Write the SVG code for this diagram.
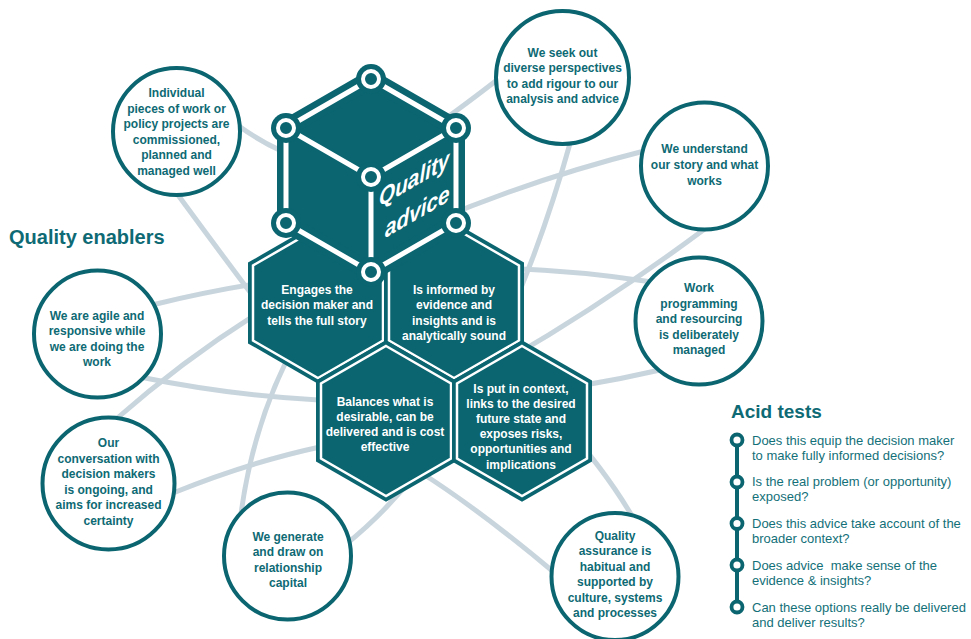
<svg xmlns="http://www.w3.org/2000/svg" xmlns:xlink="http://www.w3.org/1999/xlink" width="971" height="639" viewBox="0 0 971 639">
<style>
.conn{fill:none;stroke:#c9d5dd;stroke-width:5;stroke-linecap:round}
.circ{fill:#fff;stroke:#0a6570;stroke-width:4}
.ct{font-family:"Liberation Sans",Arial,sans-serif;font-weight:bold;font-size:12px;fill:#0e6a74;text-anchor:middle}
.ht{font-family:"Liberation Sans",Arial,sans-serif;font-weight:bold;font-size:12px;fill:#fff;text-anchor:middle}
.hexo{fill:#0a6570}
.hexi{fill:none;stroke:#fff;stroke-width:2.5}
.title{font-family:"Liberation Sans",Arial,sans-serif;font-weight:bold;fill:#0e6a74}
.at{font-family:"Liberation Sans",Arial,sans-serif;font-size:13px;fill:#137079}
.qa{font-family:"Liberation Sans",Arial,sans-serif;font-weight:bold;font-style:italic;font-size:24px;fill:#fff}
.node-o{fill:#0a6570}
.node-i{fill:#0a6570;stroke:#fff;stroke-width:4}
.edge{fill:none;stroke:#fff;stroke-width:5;stroke-linejoin:round}
</style>
<defs>
<polygon id="hexOuter" points="0,-80.8 70,-40.4 70,40.4 0,80.8 -70,40.4 -70,-40.4"/>
<polygon id="hexInner" points="0,-75 65,-37.5 65,37.5 0,75 -65,37.5 -65,-37.5"/>
</defs>

<g id="connectors">
<path class="conn" d="M236,124 C340,200 400,155 497,80"/>
<path class="conn" d="M178,195 Q222,255 265,312"/>
<path class="conn" d="M240,522 Q252,420 300,335"/>
<path class="conn" d="M152,305 Q400,244 652,282"/>
<path class="conn" d="M140,377 Q400,430 660,370"/>
<path class="conn" d="M115,420 Q330,230 648,150"/>
<path class="conn" d="M173,493 Q250,462 320,447 L420,472"/>
<path class="conn" d="M420,472 Q480,510 556,574"/>
<path class="conn" d="M345,545 Q490,430 571,140"/>
<path class="conn" d="M560,420 Q605,470 632,516"/>
<path class="conn" d="M706,228 Q592,313 480,375"/>
</g>

<text class="title" x="9" y="244" font-size="20">Quality enablers</text>

<g id="circle-individual">
<circle class="circ" cx="176.5" cy="131.5" r="63.5"/>
<text class="ct" x="176.5" y="97">Individual</text>
<text class="ct" x="176.5" y="112.5">pieces of work or</text>
<text class="ct" x="176.5" y="128">policy projects are</text>
<text class="ct" x="176.5" y="143.5">commissioned,</text>
<text class="ct" x="176.5" y="159">planned and</text>
<text class="ct" x="176.5" y="174.5">managed well</text>
</g>

<g id="circle-diverse">
<circle class="circ" cx="562.5" cy="77.5" r="66.5"/>
<text class="ct" x="562.5" y="56.5">We seek out</text>
<text class="ct" x="562.5" y="72">diverse perspectives</text>
<text class="ct" x="562.5" y="87.5">to add rigour to our</text>
<text class="ct" x="562.5" y="103">analysis and advice</text>
</g>

<g id="circle-story">
<circle class="circ" cx="704.5" cy="166" r="63.5"/>
<text class="ct" x="704.5" y="153">We understand</text>
<text class="ct" x="704.5" y="169">our story and what</text>
<text class="ct" x="704.5" y="185">works</text>
</g>

<g id="circle-programming">
<circle class="circ" cx="699" cy="321" r="63.5"/>
<text class="ct" x="699" y="292">Work</text>
<text class="ct" x="699" y="307.5">programming</text>
<text class="ct" x="699" y="323">and resourcing</text>
<text class="ct" x="699" y="338.5">is deliberately</text>
<text class="ct" x="699" y="354">managed</text>
</g>

<g id="circle-agile">
<circle class="circ" cx="97.5" cy="334" r="63.5"/>
<text class="ct" x="97" y="319.5">We are agile and</text>
<text class="ct" x="97" y="335">responsive while</text>
<text class="ct" x="97" y="350.5">we are doing the</text>
<text class="ct" x="97" y="366">work</text>
</g>

<g id="circle-conversation">
<circle class="circ" cx="108.5" cy="483.5" r="66"/>
<text class="ct" x="108.5" y="447">Our</text>
<text class="ct" x="108.5" y="462.5">conversation with</text>
<text class="ct" x="108.5" y="478">decision makers</text>
<text class="ct" x="108.5" y="493.5">is ongoing, and</text>
<text class="ct" x="108.5" y="509">aims for increased</text>
<text class="ct" x="108.5" y="524.5">certainty</text>
</g>

<g id="circle-relationship">
<circle class="circ" cx="287.5" cy="556" r="63.5"/>
<text class="ct" x="288" y="540.5">We generate</text>
<text class="ct" x="288" y="556">and draw on</text>
<text class="ct" x="288" y="571.5">relationship</text>
<text class="ct" x="288" y="587">capital</text>
</g>

<g id="circle-assurance">
<circle class="circ" cx="615" cy="576.5" r="63.5"/>
<text class="ct" x="615" y="539.5">Quality</text>
<text class="ct" x="615" y="555">assurance is</text>
<text class="ct" x="615" y="570.5">habitual and</text>
<text class="ct" x="615" y="586">supported by</text>
<text class="ct" x="615" y="601.5">culture, systems</text>
<text class="ct" x="615" y="617">and processes</text>
</g>

<g id="hex-engages">
<use xlink:href="#hexOuter" href="#hexOuter" class="hexo" transform="translate(318,303)"/>
<use xlink:href="#hexInner" href="#hexInner" class="hexi" transform="translate(318,303)"/>
<text class="ht" x="317" y="293.5">Engages the</text>
<text class="ht" x="317" y="309">decision maker and</text>
<text class="ht" x="317" y="324.5">tells the full story</text>
</g>

<g id="hex-informed">
<use xlink:href="#hexOuter" href="#hexOuter" class="hexo" transform="translate(454,303)"/>
<use xlink:href="#hexInner" href="#hexInner" class="hexi" transform="translate(454,303)"/>
<text class="ht" x="454" y="293.5">Is informed by</text>
<text class="ht" x="454" y="309">evidence and</text>
<text class="ht" x="454" y="324.5">insights and is</text>
<text class="ht" x="454" y="340">analytically sound</text>
</g>

<g id="hex-balances">
<use xlink:href="#hexOuter" href="#hexOuter" class="hexo" transform="translate(386,421)"/>
<use xlink:href="#hexInner" href="#hexInner" class="hexi" transform="translate(386,421)"/>
<text class="ht" x="385" y="405.5">Balances what is</text>
<text class="ht" x="385" y="420.5">desirable, can be</text>
<text class="ht" x="385" y="435.5">delivered and is cost</text>
<text class="ht" x="385" y="450.5">effective</text>
</g>

<g id="hex-context">
<use xlink:href="#hexOuter" href="#hexOuter" class="hexo" transform="translate(522,421)"/>
<use xlink:href="#hexInner" href="#hexInner" class="hexi" transform="translate(522,421)"/>
<text class="ht" x="521" y="392.5">Is put in context,</text>
<text class="ht" x="521" y="407.5">links to the desired</text>
<text class="ht" x="521" y="422.5">future state and</text>
<text class="ht" x="521" y="438">exposes risks,</text>
<text class="ht" x="521" y="453">opportunities and</text>
<text class="ht" x="521" y="468.5">implications</text>
</g>

<g id="cube-quality-advice">
<path d="M371,79 L456,128 L456,223 L371,272 L286,223 L286,128 Z" fill="#0a6570" stroke="#0a6570" stroke-width="18" stroke-linejoin="round"/>
<path class="edge" d="M286,128 L371,79 L456,128 L371,177 Z M371,177 L371,272 M286,128 L286,223 L371,272 L456,223 L456,128"/>
<g>
<circle class="node-o" cx="371" cy="79" r="15"/>
<circle class="node-o" cx="286" cy="128" r="15"/>
<circle class="node-o" cx="456" cy="128" r="15"/>
<circle class="node-o" cx="371" cy="177" r="15"/>
<circle class="node-o" cx="286" cy="223" r="15"/>
<circle class="node-o" cx="456" cy="223" r="15"/>
<circle class="node-o" cx="371" cy="272" r="15"/>
<circle class="node-i" cx="371" cy="79" r="8"/>
<circle class="node-i" cx="286" cy="128" r="8"/>
<circle class="node-i" cx="456" cy="128" r="8"/>
<circle class="node-i" cx="371" cy="177" r="8"/>
<circle class="node-i" cx="286" cy="223" r="8"/>
<circle class="node-i" cx="456" cy="223" r="8"/>
<circle class="node-i" cx="371" cy="272" r="8"/>
</g>
<text class="qa" transform="matrix(0.866,-0.5,0,1,379,207)">Quality</text>
<text class="qa" transform="matrix(0.866,-0.5,0,1,385,238)">advice</text>
</g>

<g id="acid-tests">
<text class="title" x="731" y="418" font-size="19">Acid tests</text>
<line x1="737" y1="440" x2="737" y2="607" stroke="#0a6570" stroke-width="4"/>
<circle cx="737" cy="440" r="5.5" fill="#fff" stroke="#0a6570" stroke-width="3.8"/>
<circle cx="737" cy="482" r="5.5" fill="#fff" stroke="#0a6570" stroke-width="3.8"/>
<circle cx="737" cy="523.5" r="5.5" fill="#fff" stroke="#0a6570" stroke-width="3.8"/>
<circle cx="737" cy="565" r="5.5" fill="#fff" stroke="#0a6570" stroke-width="3.8"/>
<circle cx="737" cy="607" r="5.5" fill="#fff" stroke="#0a6570" stroke-width="3.8"/>
<text class="at" x="752" y="445">Does this equip the decision maker</text>
<text class="at" x="752" y="460">to make fully informed decisions?</text>
<text class="at" x="752" y="486">Is the real problem (or opportunity)</text>
<text class="at" x="752" y="501">exposed?</text>
<text class="at" x="752" y="528">Does this advice take account of the</text>
<text class="at" x="752" y="543">broader context?</text>
<text class="at" x="752" y="570" xml:space="preserve">Does advice  make sense of the</text>
<text class="at" x="752" y="585">evidence &amp; insights?</text>
<text class="at" x="752" y="612">Can these options really be delivered</text>
<text class="at" x="752" y="627">and deliver results?</text>
</g>
</svg>
